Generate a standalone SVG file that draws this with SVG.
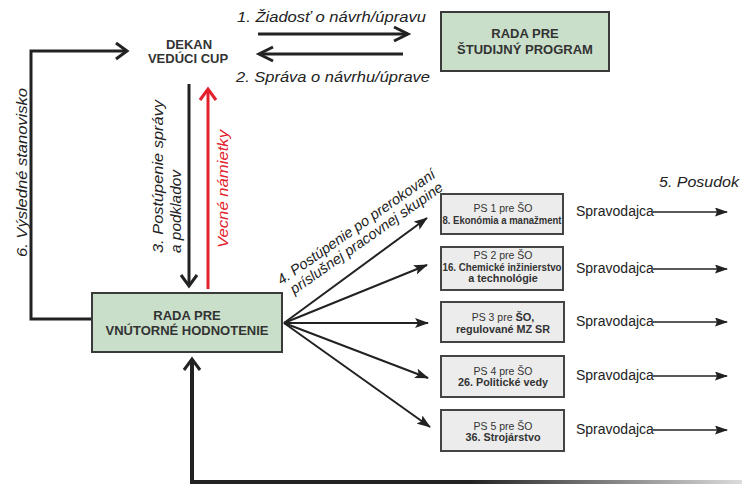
<svg xmlns="http://www.w3.org/2000/svg" width="742" height="487" viewBox="0 0 742 487">
<style>
.bold{font-family:"Liberation Sans",Arial,sans-serif;font-weight:bold;fill:#333;text-anchor:middle}
.it{font-family:"Liberation Sans",Arial,sans-serif;font-style:italic;font-size:14.5px;fill:#222}
.reg{font-family:"Liberation Sans",Arial,sans-serif;fill:#222}
.green{fill:#c9dfc9;stroke:#3a3a3a;stroke-width:2}
.gray{fill:#ececec;stroke:#444;stroke-width:2}
.ps{font-family:"Liberation Sans",Arial,sans-serif;font-size:10.5px;fill:#333;text-anchor:middle}
.psb{font-weight:bold;font-size:10.8px}
.thick{fill:none;stroke:#222;stroke-width:3}
.chev{fill:none;stroke:#222;stroke-width:3;stroke-linejoin:miter}
.fan{fill:none;stroke:#222;stroke-width:2;marker-end:url(#fh)}
.sp{fill:none;stroke:#222;stroke-width:1.6;marker-end:url(#sh)}
</style>
<defs>
<marker id="fh" viewBox="0 0 14 10" refX="13" refY="5" markerWidth="14" markerHeight="10" markerUnits="userSpaceOnUse" orient="auto">
<path d="M0,0 L14,5 L0,10 L3,5 Z" fill="#222"/>
</marker>
<marker id="sh" viewBox="0 0 13 9" refX="12" refY="4.5" markerWidth="13" markerHeight="9" markerUnits="userSpaceOnUse" orient="auto">
<path d="M0,0 L13,4.5 L0,9 L2,4.5 Z" fill="#222"/>
</marker>
<linearGradient id="fade" gradientUnits="userSpaceOnUse" x1="470" y1="0" x2="742" y2="0">
<stop offset="0" stop-color="#222"/>
<stop offset="1" stop-color="#dcdcdc"/>
</linearGradient>
</defs>

<g id="connectors">
<!-- 1 request -->
<line class="thick" x1="258" y1="34" x2="408" y2="34"/>
<polyline class="chev" points="394,27 408,34 394,41"/>
<!-- 2 report -->
<line class="thick" x1="403" y1="54" x2="260" y2="54"/>
<polyline class="chev" points="273,47 259,54 273,61"/>
<!-- 3 down -->
<line class="thick" x1="189" y1="84" x2="189" y2="286"/>
<polyline class="chev" points="181,275 189,286 197,275"/>
<!-- red up -->
<line x1="208" y1="289" x2="208" y2="89" stroke="#e3202b" stroke-width="3"/>
<polyline points="200,100 208,89 216,100" fill="none" stroke="#e3202b" stroke-width="3"/>
<!-- 6 left loop -->
<polyline class="thick" points="92,319 31,319 31,51 127,51"/>
<polyline class="chev" points="116,43 127,51 116,59"/>
<!-- bottom return -->
<polyline points="192,359 192,482 742,482" fill="none" stroke="url(#fade)" stroke-width="4"/>
<line x1="192" y1="359" x2="192" y2="470" stroke="#222" stroke-width="4"/>
<polyline class="chev" points="184,370 192,359 200,370"/>
<!-- fan -->
<line class="fan" x1="284" y1="323" x2="427" y2="218"/>
<line class="fan" x1="284" y1="323" x2="427" y2="265"/>
<line class="fan" x1="284" y1="323" x2="428" y2="323"/>
<line class="fan" x1="284" y1="323" x2="428" y2="378"/>
<line class="fan" x1="284" y1="323" x2="430" y2="427"/>
<!-- posudok arrows -->
<line class="sp" x1="653" y1="212" x2="727" y2="212"/>
<line class="sp" x1="653" y1="269" x2="727" y2="269"/>
<line class="sp" x1="653" y1="322" x2="727" y2="322"/>
<line class="sp" x1="653" y1="376" x2="727" y2="376"/>
<line class="sp" x1="653" y1="430" x2="727" y2="430"/>

<!-- connector labels -->
<text class="it" x="237" y="22" textLength="189" lengthAdjust="spacingAndGlyphs">1. Žiadosť o návrh/úpravu</text>
<text class="it" x="236" y="82" textLength="194" lengthAdjust="spacingAndGlyphs">2. Správa o návrhu/úprave</text>
<text class="it" transform="translate(163,253) rotate(-90)" x="0" y="0" textLength="153" lengthAdjust="spacingAndGlyphs">3. Postúpenie správy</text>
<text class="it" transform="translate(181,253) rotate(-90)" x="0" y="0" textLength="83" lengthAdjust="spacingAndGlyphs">a podkladov</text>
<text class="it" transform="translate(228,248) rotate(-90)" x="0" y="0" textLength="118" lengthAdjust="spacingAndGlyphs" style="fill:#e3202b">Vecné námietky</text>
<text class="it" transform="translate(27,257) rotate(-90)" x="0" y="0" textLength="169" lengthAdjust="spacingAndGlyphs">6. Výsledné stanovisko</text>
<text class="it" transform="translate(359,231) rotate(-35)" text-anchor="middle"><tspan x="0" y="0">4. Postúpenie po prerokovaní</tspan><tspan x="2" y="15">príslušnej pracovnej skupine</tspan></text>
<text class="it" x="659" y="187" textLength="80" lengthAdjust="spacingAndGlyphs" style="font-size:15px">5. Posudok</text>
</g>

<g id="dekan">
<text class="bold" x="189" y="49" style="font-size:13px">DEKAN</text>
<text class="bold" x="188" y="63" style="font-size:13px">VEDÚCI CUP</text>
</g>

<g id="rada-sp">
<rect class="green" x="441" y="12" width="168" height="59"/>
<text class="bold" x="525" y="38" style="font-size:13px">RADA PRE</text>
<text class="bold" x="525" y="54" style="font-size:13px">ŠTUDIJNÝ PROGRAM</text>
</g>

<g id="rada-vh">
<rect class="green" x="92" y="293" width="190" height="59"/>
<text class="bold" x="187" y="320" style="font-size:13px">RADA PRE</text>
<text class="bold" x="187" y="335" style="font-size:13px">VNÚTORNÉ HODNOTENIE</text>
</g>

<g id="ps1">
<rect class="gray" x="441" y="194" width="122" height="40"/>
<text class="ps" x="503" y="212">PS 1 pre ŠO</text>
<text class="ps psb" x="502" y="224" textLength="119" lengthAdjust="spacingAndGlyphs">8. Ekonómia a manažment</text>
</g>
<g id="ps2">
<rect class="gray" x="441" y="247" width="122" height="43"/>
<text class="ps" x="503" y="259">PS 2 pre ŠO</text>
<text class="ps psb" x="502" y="271" textLength="119" lengthAdjust="spacingAndGlyphs">16. Chemické inžinierstvo</text>
<text class="ps psb" x="503" y="282">a technológie</text>
</g>
<g id="ps3">
<rect class="gray" x="441" y="302" width="123" height="40"/>
<text class="ps" x="503" y="321">PS 3 pre <tspan font-weight="bold" font-size="11">ŠO,</tspan></text>
<text class="ps psb" x="503" y="333">regulované MZ SR</text>
</g>
<g id="ps4">
<rect class="gray" x="441" y="356" width="123" height="41"/>
<text class="ps" x="503" y="375">PS 4 pre ŠO</text>
<text class="ps psb" x="503" y="386">26. Politické vedy</text>
</g>
<g id="ps5">
<rect class="gray" x="441" y="410" width="123" height="41"/>
<text class="ps" x="503" y="430">PS 5 pre ŠO</text>
<text class="ps psb" x="503" y="441">36. Strojárstvo</text>
</g>

<g id="spravodajca">
<text class="reg" x="576" y="216" font-size="14">Spravodajca</text>
<text class="reg" x="576" y="273" font-size="14">Spravodajca</text>
<text class="reg" x="576" y="326" font-size="14">Spravodajca</text>
<text class="reg" x="576" y="380" font-size="14">Spravodajca</text>
<text class="reg" x="576" y="434" font-size="14">Spravodajca</text>
</g>
</svg>
